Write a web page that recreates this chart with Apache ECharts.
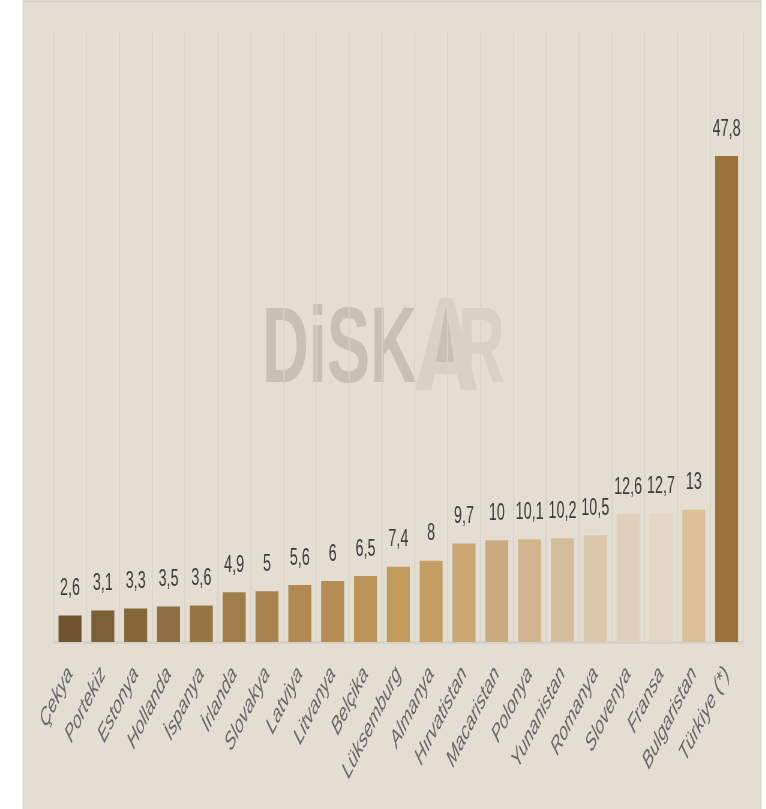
<!DOCTYPE html>
<html>
<head>
<meta charset="utf-8">
<script src="https://cdn.jsdelivr.net/npm/echarts@6/dist/echarts.min.js"></script>
<style>
html,body{margin:0;padding:0;background:#ffffff;overflow:hidden;}
#wrap{width:766px;height:809px;overflow:hidden;position:relative;}
#chart{width:1277px;height:809px;transform:scaleX(0.6);transform-origin:0 0;}
</style>
</head>
<body>
<div id="wrap"><div id="chart"></div></div>
<script>
// Data
var categories = ['Çekya','Portekiz','Estonya','Hollanda','İspanya','İrlanda','Slovakya','Latviya','Litvanya','Belçika','Lüksemburg','Almanya','Hırvatistan','Macaristan','Polonya','Yunanistan','Romanya','Slovenya','Fransa','Bulgaristan','Türkiye (*)'];
var values = [2.6,3.1,3.3,3.5,3.6,4.9,5,5.6,6,6.5,7.4,8,9.7,10,10.1,10.2,10.5,12.6,12.7,13,47.8];
var barColors = ['#6e5430','#7b5f36','#866838','#8f6f40','#977543','#a17d4a','#a9844f','#b08a52','#b68e55','#bc9457','#c29a5b','#c59e65','#cba571','#cdab80','#d2b48e','#d5bc9b','#dbc7aa','#e0cfbb','#e4d5c4','#dbc199','#9b7239'];

var K = 0.6; // horizontal squash applied by CSS
function P(pts){ return pts.map(function(p){ return [p[0]/K, p[1]]; }); }
var chart = echarts.init(document.getElementById('chart'));
var option = {
  backgroundColor: '#ffffff',
  animation: false,
  graphic: [
    {type:'rect', z:-10, shape:{x:23/K, y:1, width:(761-23)/K, height:812}, style:{fill:'#e3ddd2', stroke:'#d2cdc4', lineWidth:1.5}},
    {type:'text', z:-5, x:262/K, y:352, style:{text:'DiSK', fill:'#c7c1b5', font:'bold 108px "Liberation Sans", Arial, sans-serif', verticalAlign:'middle', align:'left'}},
    {type:'polygon', z:-5, shape:{points:P([[415,390],[431,390],[435,374],[457,374],[461,390],[477,390],[453,298],[440,298]])}, style:{fill:'#d8d1c4'}},
    {type:'polygon', z:-4, shape:{points:P([[446,306],[436,362],[454,362]])}, style:{fill:'#c7c1b5'}},
    {type:'text', z:-5, x:458/K, y:352, style:{text:'R', fill:'#d8d1c4', font:'bold 108px "Liberation Sans", Arial, sans-serif', verticalAlign:'middle', align:'left'}}
  ],
  grid: {left: 53.6/K, right: 1277 - 743/K, top: 32, bottom: 809 - 642},
  xAxis: {
    type: 'category',
    data: categories,
    axisLine: {show: true, lineStyle: {color: '#d6d2c9', width: 3}},
    axisTick: {show: false},
    splitLine: {show: true, lineStyle: {color: '#d8d4cb', width: 1.7}},
    axisLabel: {
      interval: 0, rotate: 50, margin: 28,
      color: '#686868', fontStyle: 'italic',
      fontFamily: 'Liberation Sans, Arial, sans-serif', fontSize: 25
    }
  },
  yAxis: {type: 'value', min: 0, max: 60, show: false, splitLine: {show: false}},
  series: [{
    type: 'bar',
    data: values.map(function(v, i){ return {value: v, itemStyle: {color: barColors[i]}}; }),
    barWidth: '70%',
    label: {
      show: true, position: 'top', distance: 15,
      color: '#3c3c3c', fontSize: 24,
      fontFamily: 'Liberation Sans, Arial, sans-serif',
      formatter: function(p){ return String(p.value).replace('.', ','); }
    }
  }]
};
chart.setOption(option);
</script>
</body>
</html>
